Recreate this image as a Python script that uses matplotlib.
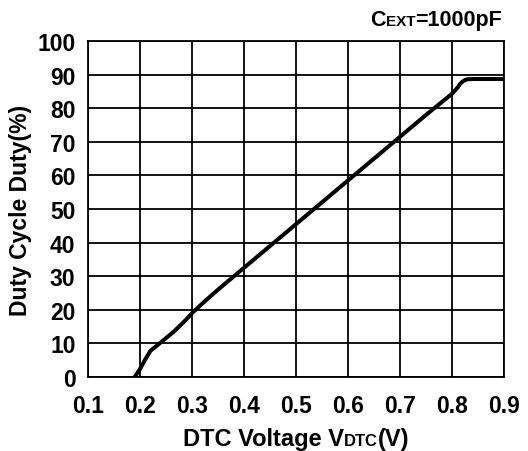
import matplotlib
matplotlib.use("Agg")
import matplotlib.pyplot as plt

plt.rcParams['font.family'] = ['Liberation Sans', 'DejaVu Sans']
plt.rcParams['font.weight'] = 'bold'

# DTC voltage (V) vs duty cycle (%)
dtc_v = [0.19, 0.20, 0.21, 0.22, 0.24, 0.265, 0.285, 0.30, 0.325, 0.35, 0.40, 0.45, 0.50,
         0.55, 0.60, 0.65, 0.70, 0.75, 0.80, 0.81, 0.815, 0.82, 0.825, 0.83, 0.84, 0.86, 0.90]
duty = [0.0, 2.4, 5.2, 7.8, 10.3, 13.5, 16.5, 19.0, 22.6, 26.0, 32.5, 39.0, 45.5,
        52.0, 58.5, 65.0, 71.5, 78.0, 84.3, 86.0, 87.1, 87.9, 88.4, 88.6, 88.7, 88.7, 88.7]

xticks = [0.1, 0.2, 0.3, 0.4, 0.5, 0.6, 0.7, 0.8, 0.9]
yticks = list(range(0, 101, 10))

fig = plt.figure(figsize=(5.28, 4.52), dpi=100)
ax = fig.add_axes([0.1667, 0.1637, 0.7878, 0.7433])
ax.plot(dtc_v, duty, color='black', linewidth=2.9, solid_capstyle='butt',
        solid_joinstyle='round')
ax.set_xlim(0.1, 0.9)
ax.set_ylim(0, 100)
ax.set_xticks(xticks)
ax.set_yticks(yticks)
ax.set_xticklabels(['%.1f' % v for v in xticks])
ax.grid(True, color='black', linewidth=1.3)
ax.tick_params(length=0, labelsize=16.5)
ax.tick_params(axis='x', pad=12)
ax.tick_params(axis='y', pad=9)
for s in ax.spines.values():
    s.set_linewidth(1.3)
ax.set_ylabel('Duty Cycle Duty(%)', fontsize=16.5, fontweight='bold')
ax.yaxis.set_label_coords(-0.135, 0.5)


def run_text(x, y, pieces, ha='left'):
    # draw text pieces side by side in figure pixels
    fig.canvas.draw()
    r = fig.canvas.get_renderer()
    objs = []
    for txt, size in pieces:
        t = fig.text(0, 0, txt, fontsize=size, fontweight='bold', va='baseline',
                     transform=None)
        objs.append(t)
    widths = [t.get_window_extent(r).width for t in objs]
    total = sum(widths)
    cx = x - total if ha == 'right' else (x - total / 2 if ha == 'center' else x)
    for t, w in zip(objs, widths):
        t.set_position((cx, y))
        cx += w


H = 452
run_text(502, H - 26, [('C', 15.5), ('EXT', 11), ('=1000pF', 15.5)], ha='right')
run_text(296, H - 446, [('DTC Voltage V', 17), ('DTC', 12), ('(V)', 17)], ha='center')

fig.savefig('out.png', dpi=100)
